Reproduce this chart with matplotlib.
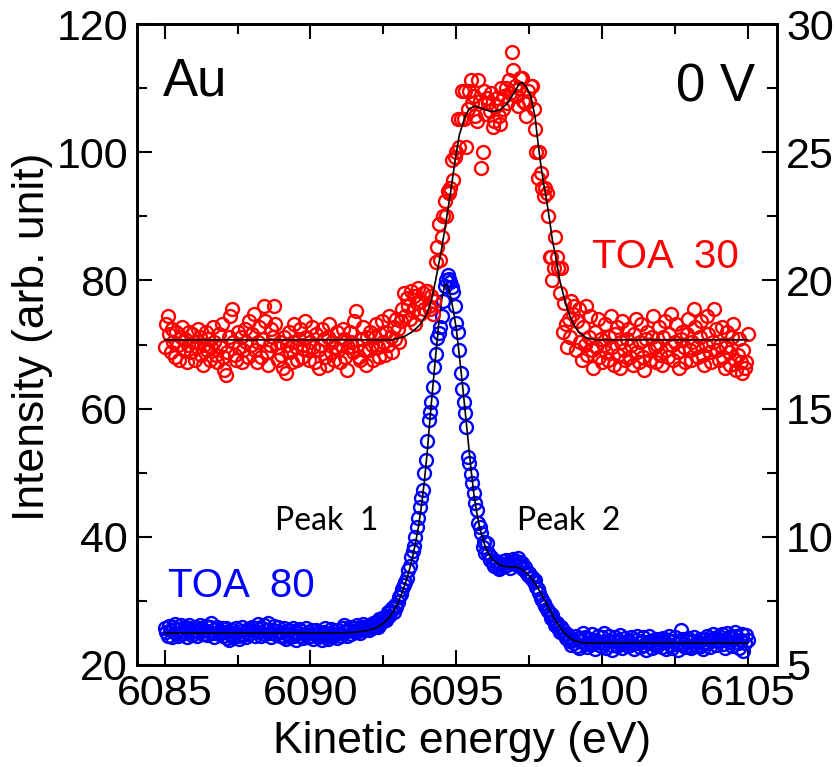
import numpy as np
import matplotlib
matplotlib.use('Agg')
import matplotlib.pyplot as plt
from matplotlib.ticker import MultipleLocator

plt.rcParams['font.family'] = ['Liberation Sans', 'DejaVu Sans']

# TOA 30 (右轴), 6085 ~ 6105 eV, 0.05 eV 步长
toa30 = [
    17.4, 18.3, 18.6, 17.9, 17.2, 18.1, 17.6, 17.0, 18.0, 17.5, 16.9, 17.8, 18.2, 17.3, 17.7, 16.8, 17.5, 18.0, 17.2, 17.9,
    17.6, 16.9, 17.4, 18.1, 17.8, 17.1, 16.7, 17.5, 18.0, 17.3, 17.7, 16.9, 17.4, 18.2, 17.6, 17.1, 16.8, 17.9, 17.4, 18.3,
    17.0, 16.5, 16.3, 17.2, 17.8, 18.6, 18.9, 17.6, 17.1, 16.9, 18.0, 17.4, 17.8, 16.8, 17.3, 18.1, 17.6, 17.0, 18.4, 17.5,
    17.9, 18.7, 17.3, 16.8, 17.6, 18.2, 17.0, 17.7, 19.0, 18.4, 17.2, 16.7, 17.5, 18.1, 17.8, 19.0, 18.3, 17.4, 16.9, 17.6,
    17.1, 16.6, 17.8, 16.4, 17.5, 18.0, 17.2, 16.8, 17.6, 18.3, 17.4, 16.9, 17.7, 18.1, 17.0, 17.5, 18.4, 17.8, 17.3, 16.9,
    17.6, 18.2, 17.4, 16.8, 17.9, 17.3, 16.6, 17.5, 18.1, 17.7, 17.0, 16.7, 17.8, 18.3, 17.2, 17.6, 16.9, 17.4, 18.0, 17.3,
    16.8, 17.5, 18.1, 17.7, 17.0, 16.5, 17.4, 18.0, 17.6, 17.2, 18.4, 18.8, 17.5, 17.0, 16.9, 17.7, 18.2, 17.3, 16.7, 17.8,
    17.3, 18.0, 17.5, 16.9, 17.8, 18.3, 17.4, 17.0, 17.9, 18.4, 17.6, 17.1, 18.0, 17.5, 18.6, 17.8, 17.2, 18.2, 17.7, 18.5,
    18.1, 17.6, 18.4, 18.9, 19.5, 18.6, 19.3, 19.0, 18.5, 19.6, 18.8, 19.4, 18.3, 19.1, 19.7, 18.7, 19.2, 19.5, 18.9, 19.6,
    19.6, 19.0, 18.9, 19.4, 18.7, 19.2, 20.7, 21.3, 22.2, 20.8, 21.7, 22.5, 23.1, 22.5, 23.5, 23.4, 23.6, 24.7, 23.9, 24.8,
    25.0, 26.3, 25.2, 26.3, 27.4, 26.3, 27.4, 25.2, 26.7, 27.4, 27.8, 26.9, 27.2, 26.4, 26.2, 27.8, 27.0, 24.4, 25.0, 27.4,
    26.5, 27.1, 26.9, 26.6, 27.3, 26.0, 26.2, 26.8, 27.1, 26.4, 26.1, 27.5, 26.7, 27.2, 27.5, 26.9, 27.8, 27.3, 28.9, 28.2,
    27.6, 27.2, 26.8, 27.5, 27.9, 27.9, 27.0, 26.9, 26.4, 27.4, 27.0, 27.6, 27.6, 26.7, 25.9, 25.0, 24.0, 25.0, 24.2, 23.6,
    23.3, 23.6, 23.4, 22.5, 20.9, 20.9, 20.0, 20.5, 21.7, 20.9, 20.5, 19.5, 20.5, 18.0, 19.1, 18.3, 17.4, 18.5, 17.8, 19.2,
    18.7, 19.0, 17.3, 18.4, 18.9, 17.6, 16.9, 18.2, 17.5, 19.0, 17.1, 17.8, 18.6, 17.3, 16.6, 18.0, 17.4, 18.5, 17.0, 17.7,
    16.8, 17.5, 18.3, 17.2, 16.9, 17.8, 18.6, 17.4, 16.7, 17.9, 18.2, 17.1, 16.6, 17.6, 18.4, 17.3, 16.9, 17.7, 18.1, 17.0,
    17.5, 16.7, 17.9, 18.5, 17.2, 16.8, 17.6, 18.3, 17.0, 16.5, 17.7, 18.0, 17.3, 16.9, 17.8, 18.6, 17.4, 16.8, 17.5, 18.2,
    17.1, 16.7, 17.8, 18.4, 17.3, 17.0, 17.9, 18.7, 17.5, 16.9, 17.6, 18.3, 17.2, 16.6, 17.7, 18.0, 17.4, 16.8, 17.9, 18.5,
    17.3, 16.9, 17.6, 18.9, 18.2, 17.4, 17.0, 17.8, 18.4, 17.1, 16.7, 17.5, 18.6, 17.9, 17.2, 16.8, 17.6, 18.9, 18.1, 17.3,
    16.9, 17.5, 18.2, 17.0, 16.6, 17.4, 18.0, 17.2, 16.7, 17.8, 18.3, 16.9, 16.5, 17.1, 17.7, 16.8, 16.4, 17.3, 16.6, 16.8,
    17.9,
]

# TOA 80 (左轴)
toa80 = [
    25.8, 25.1, 24.6, 26.1, 25.4, 24.3, 25.9, 26.4, 25.0, 24.5, 25.6, 26.2, 24.8, 25.3, 25.9, 24.4, 25.7, 26.3, 25.1, 24.7,
    25.5, 26.0, 24.6, 25.2, 26.3, 25.8, 24.9, 25.4, 26.1, 24.7, 25.3, 25.9, 26.5, 25.0, 24.4, 25.6, 26.0, 24.8, 25.2, 25.7,
    24.5, 25.1, 25.8, 24.2, 23.9, 24.8, 25.5, 24.3, 25.0, 25.7, 24.6, 24.1, 25.3, 25.9, 24.7, 25.2, 24.4, 25.6, 24.9, 25.4,
    26.0, 25.3, 24.6, 25.8, 26.4, 25.1, 24.5, 25.7, 26.2, 24.9, 25.4, 26.6, 25.0, 24.3, 25.5, 26.1, 24.8, 25.3, 25.9, 24.6,
    25.2, 24.4, 25.7, 24.1, 24.8, 25.5, 24.3, 25.0, 25.8, 24.6, 23.9, 25.1, 25.6, 24.5, 25.3, 24.2, 24.9, 25.7, 24.4, 25.1,
    24.6, 25.4, 24.0, 24.8, 25.5, 24.3, 25.1, 24.7, 23.9, 25.2, 25.8, 24.5, 24.1, 25.0, 25.6, 24.4, 25.3, 24.8, 24.2, 25.5,
    25.0, 24.5, 25.7, 26.2, 25.1, 24.6, 25.5, 26.0, 24.9, 25.3, 25.8, 25.2, 26.3, 25.6, 25.0, 25.9, 26.4, 25.5, 25.8, 26.1,
    25.4, 26.2, 25.7, 26.5, 25.9, 26.6, 26.0, 27.1, 26.4, 27.3, 26.8, 27.5, 27.0, 28.2, 27.6, 28.4, 28.9, 28.3, 29.3, 29.0,
    29.8, 30.6, 31.0, 31.9, 32.5, 33.0, 33.6, 34.8, 35.5, 36.9, 37.8, 38.6, 40.0, 41.5, 43.0, 44.6, 46.0, 47.3, 50.0, 52.0,
    55.0, 58.2, 59.5, 61.0, 63.4, 66.5, 68.5, 71.0, 71.8, 72.7, 74.5, 76.8, 79.2, 80.0, 80.8, 80.2, 79.8, 79.0, 78.2, 76.0,
    73.4, 72.0, 69.1, 65.5, 63.0, 61.0, 59.3, 57.1, 52.4, 51.5, 49.8, 48.4, 46.8, 45.2, 44.2, 42.2, 41.5, 40.6, 38.4, 39.2,
    37.5, 39.0, 37.5, 36.4, 36.9, 35.9, 35.5, 36.2, 35.9, 35.0, 35.3, 35.8, 36.3, 35.4, 36.4, 35.6, 36.0, 35.2, 35.9, 36.5,
    35.8, 36.2, 36.7, 35.5, 36.0, 35.9, 34.9, 35.3, 34.5, 34.0, 34.3, 33.5, 33.8, 33.0, 33.3, 32.2, 31.9, 31.2, 30.5, 30.2,
    29.7, 29.2, 28.8, 28.5, 28.1, 27.4, 27.8, 26.9, 26.3, 26.6, 25.8, 25.2, 25.9, 25.5, 24.8, 24.2, 24.9, 23.8, 24.4, 23.1,
    23.9, 23.4, 24.6, 23.0, 22.6, 24.2, 23.7, 25.0, 24.4, 23.3, 22.8, 24.1, 23.5, 24.8, 23.2, 22.5, 23.9, 24.5, 23.6, 23.0,
    24.3, 25.0, 23.4, 22.7, 23.8, 24.6, 23.1, 22.4, 23.7, 24.4, 23.0, 23.9, 24.7, 23.3, 22.6, 23.5, 24.2, 23.8, 22.9, 23.6,
    24.4, 23.2, 22.5, 23.9, 24.6, 23.4, 22.8, 23.7, 24.3, 23.1, 22.3, 23.6, 24.5, 23.8, 22.7, 23.3, 24.1, 23.5, 22.9, 24.0,
    23.4, 22.8, 24.2, 23.6, 22.5, 23.9, 24.5, 23.1, 22.7, 23.8, 24.3, 23.2, 22.4, 23.6, 25.5, 24.0, 23.3, 22.8, 23.7, 24.2,
    23.0, 22.6, 23.8, 24.4, 23.3, 22.9, 23.6, 24.1, 23.0, 22.5, 23.4, 24.0, 24.6, 23.5, 22.8, 23.9, 24.8, 24.2, 23.1, 23.7,
    24.5, 23.8, 24.9, 23.3, 22.7, 24.0, 25.0, 24.4, 23.6, 22.9, 24.2, 25.1, 24.6, 23.4, 22.6, 23.9, 24.8, 22.2, 23.5, 24.7,
    23.9,
]

# 拟合曲线
fit30_e = [6085.0, 6092.8, 6093.2, 6093.5, 6093.75, 6094.0, 6094.15, 6094.3, 6094.5, 6094.65,
           6094.8, 6094.95, 6095.1, 6095.3, 6095.45, 6095.65, 6095.9, 6096.2, 6096.5, 6096.75,
           6097.0, 6097.15, 6097.25, 6097.4, 6097.55, 6097.7, 6097.8, 6097.9, 6098.0, 6098.1,
           6098.2, 6098.3, 6098.43, 6098.55, 6098.72, 6098.85, 6099.0, 6099.2, 6099.46, 6099.8, 6105.0]
fit30_i = [17.68, 17.68, 17.80, 18.0, 18.26, 18.72, 19.24, 20.05, 21.25, 22.3,
           23.4, 24.6, 25.65, 26.4, 26.7, 26.8, 26.7, 26.58, 26.65, 26.9,
           27.35, 27.65, 27.72, 27.55, 27.2, 26.4, 25.4, 24.5, 23.75, 23.1,
           22.36, 21.55, 20.8, 20.0, 19.24, 18.75, 18.33, 17.98, 17.76, 17.68, 17.68]

fit80_e = [6085.0, 6091.0, 6091.5, 6092.0, 6092.3, 6092.5, 6092.7, 6092.9, 6093.0, 6093.1,
           6093.2, 6093.3, 6093.4, 6093.5, 6093.6, 6093.7, 6093.8, 6093.9, 6094.0, 6094.1,
           6094.2, 6094.3, 6094.4, 6094.5, 6094.6, 6094.65, 6094.7, 6094.8, 6094.9, 6095.0,
           6095.1, 6095.2, 6095.3, 6095.4, 6095.5, 6095.6, 6095.7, 6095.8, 6095.9, 6096.0,
           6096.1, 6096.25, 6096.5, 6096.75, 6097.0, 6097.2, 6097.4, 6097.6, 6097.8, 6098.0,
           6098.2, 6098.4, 6098.6, 6098.8, 6099.0, 6099.3, 6099.6, 6105.0]
fit80_i = [25.0, 25.0, 25.1, 25.4, 25.9, 26.5, 27.4, 28.8, 29.7, 30.8,
           32.0, 33.4, 35.0, 36.8, 39.0, 41.5, 44.6, 48.4, 53.0, 58.5,
           63.6, 68.6, 73.3, 77.0, 79.2, 79.4, 79.1, 77.6, 75.3, 72.5,
           68.5, 64.3, 59.8, 55.3, 50.8, 46.8, 43.8, 41.5, 39.8, 38.4,
           37.4, 36.4, 35.6, 35.3, 35.3, 35.1, 34.4, 33.4, 32.0, 30.4,
           28.6, 27.0, 25.6, 24.6, 23.9, 23.5, 23.4, 23.4]

energy = np.linspace(6085, 6105, len(toa80))
energy30 = np.linspace(6085, 6105, len(toa30))

W, H = 836, 767
fig = plt.figure(figsize=(W / 100, H / 100), dpi=100)
ax = fig.add_axes([137 / W, 102 / H, 640 / W, 641 / H])
ax2 = ax.twinx()

ax.plot(energy, toa80, 'o', mfc='none', mec='#0000ff', ms=9.3, mew=1.7)
ax.plot(fit80_e, fit80_i, color='k', lw=1.2)
ax2.plot(energy30, toa30, 'o', mfc='none', mec='#ff0000', ms=9.3, mew=1.7)
ax2.plot(fit30_e, fit30_i, color='k', lw=1.2)

ax.set_xlim(6084.05, 6106.0)
ax.set_ylim(20, 120)
ax2.set_ylim(5, 30)

ax.xaxis.set_major_locator(MultipleLocator(5))
ax.xaxis.set_minor_locator(MultipleLocator(2.5))
ax.yaxis.set_major_locator(MultipleLocator(20))
ax.yaxis.set_minor_locator(MultipleLocator(10))
ax2.yaxis.set_major_locator(MultipleLocator(5))
ax2.yaxis.set_minor_locator(MultipleLocator(2.5))

for a in (ax, ax2):
    a.tick_params(which='both', direction='in', width=1.5, labelsize=31, pad=6.5)
    a.tick_params(which='major', length=11)
    a.tick_params(which='minor', length=7)
    for s in a.spines.values():
        s.set_linewidth(2)
ax.tick_params(which='both', top=True, right=False)

# 文字标注
fig.text(163 / W, 1 - 95 / H, 'Au', fontsize=38, va='baseline')
fig.text(755 / W, 1 - 102 / H, '0 V', fontsize=38, ha='right', va='baseline')
fig.text(592 / W, 1 - 268 / H, 'TOA  30', fontsize=29, color='#ff0000', va='baseline')
fig.text(168 / W, 1 - 597 / H, 'TOA  80', fontsize=29, color='#0000ff', va='baseline')
fig.text(275 / W, 1 - 530 / H, 'Peak  1', fontsize=23, family=['Lato', 'DejaVu Sans'], va='baseline')
fig.text(517 / W, 1 - 530 / H, 'Peak  2', fontsize=23, family=['Lato', 'DejaVu Sans'], va='baseline')

fig.text(462 / W, 1 - 753 / H, 'Kinetic energy (eV)', fontsize=32, ha='center', va='baseline')
fig.text(33 / W, 1 - 337 / H, 'Intensity (arb. unit)', fontsize=32, rotation=90,
         ha='center', va='center')

fig.savefig('out.png', dpi=100)
